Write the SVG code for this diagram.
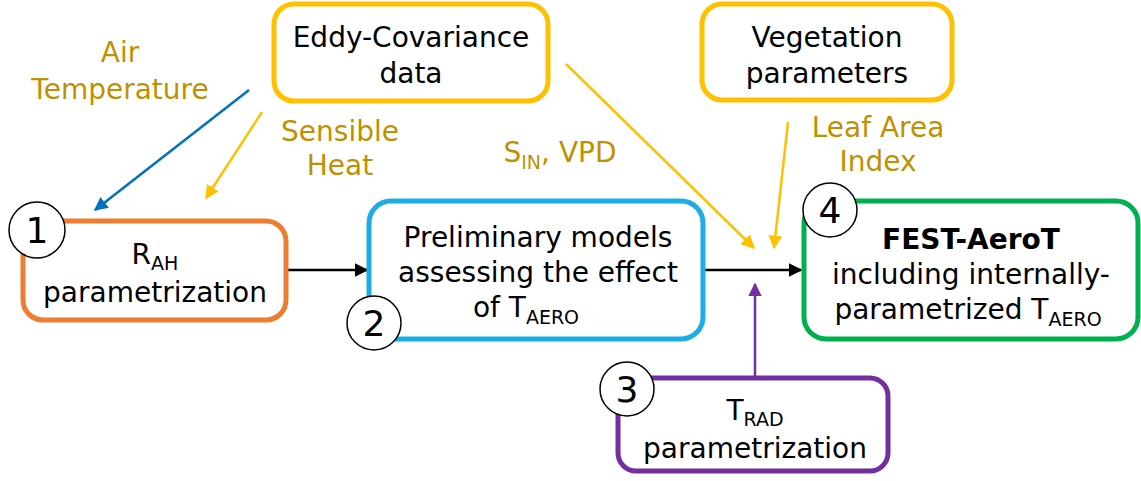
<svg xmlns="http://www.w3.org/2000/svg" width="1141" height="481" viewBox="0 0 1141 481">
  <defs>
    <style>
      text { font-family: "DejaVu Sans", Verdana, sans-serif; font-size: 28px; fill: #000; text-anchor: middle; }
      .lbl { fill: #BF9000; }
      .sub { font-size: 19px; }
      .num { font-size: 36px; }
      .box { fill: #fff; stroke-width: 5; }
      .badge { fill: #fff; stroke: #000; stroke-width: 1.5; }
      .conn { fill: none; stroke-width: 2.5; }
    </style>
    <marker id="ah-black" viewBox="0 0 10 10" refX="9" refY="5" markerWidth="5.5" markerHeight="5.5" orient="auto" markerUnits="strokeWidth">
      <path d="M0,0 L10,5 L0,10 z" fill="#000"/>
    </marker>
    <marker id="ah-gold" viewBox="0 0 10 10" refX="9" refY="5" markerWidth="5.5" markerHeight="5.5" orient="auto" markerUnits="strokeWidth">
      <path d="M0,0 L10,5 L0,10 z" fill="#FFC000"/>
    </marker>
    <marker id="ah-blue" viewBox="0 0 10 10" refX="9" refY="5" markerWidth="5.5" markerHeight="5.5" orient="auto" markerUnits="strokeWidth">
      <path d="M0,0 L10,5 L0,10 z" fill="#0070C0"/>
    </marker>
    <marker id="ah-purple" viewBox="0 0 10 10" refX="9" refY="5" markerWidth="5.5" markerHeight="5.5" orient="auto" markerUnits="strokeWidth">
      <path d="M0,0 L10,5 L0,10 z" fill="#7030A0"/>
    </marker>
  </defs>
  <rect width="1141" height="481" fill="#fff"/>

  <!-- connectors -->
  <g id="connectors">
    <line class="conn" x1="249" y1="90" x2="95" y2="210" stroke="#0070C0" marker-end="url(#ah-blue)"/>
    <line class="conn" x1="262" y1="112" x2="206" y2="198" stroke="#FFC000" marker-end="url(#ah-gold)"/>
    <line class="conn" x1="566" y1="64" x2="754" y2="248" stroke="#FFC000" marker-end="url(#ah-gold)"/>
    <line class="conn" x1="788" y1="122" x2="774" y2="248" stroke="#FFC000" marker-end="url(#ah-gold)"/>
    <line class="conn" x1="287" y1="270" x2="367" y2="270" stroke="#000" marker-end="url(#ah-black)"/>
    <line class="conn" x1="704" y1="270" x2="801" y2="270" stroke="#000" marker-end="url(#ah-black)"/>
    <line class="conn" x1="755" y1="378" x2="755" y2="284" stroke="#7030A0" marker-end="url(#ah-purple)"/>
  </g>

  <!-- connector labels -->
  <g id="labels">
    <text class="lbl" x="120" y="62">Air</text>
    <text class="lbl" x="120" y="99">Temperature</text>
    <text class="lbl" x="340" y="141">Sensible</text>
    <text class="lbl" x="340" y="175">Heat</text>
    <text class="lbl" x="560" y="162">S<tspan class="sub" dy="7">IN</tspan><tspan dy="-7">, VPD</tspan></text>
    <text class="lbl" x="878" y="137">Leaf Area</text>
    <text class="lbl" x="878" y="171">Index</text>
  </g>

  <g id="eddy">
    <rect class="box" x="274" y="4" width="274" height="97" rx="20" stroke="#FFC000"/>
    <text x="411" y="47">Eddy-Covariance</text>
    <text x="411" y="83">data</text>
  </g>

  <g id="vegetation">
    <rect class="box" x="702" y="4" width="250" height="96" rx="20" stroke="#FFC000"/>
    <text x="827" y="47">Vegetation</text>
    <text x="827" y="83">parameters</text>
  </g>

  <g id="rah">
    <rect class="box" x="23" y="221" width="263" height="99" rx="20" stroke="#ED7D31"/>
    <text x="155" y="264">R<tspan class="sub" dy="6">AH</tspan></text>
    <text x="155" y="302">parametrization</text>
    <circle class="badge" cx="37" cy="230" r="28"/>
    <text class="num" x="37" y="243">1</text>
  </g>

  <g id="preliminary">
    <rect class="box" x="369" y="201" width="334" height="138" rx="22" stroke="#1CADE4"/>
    <text x="538" y="247">Preliminary models</text>
    <text x="538" y="282">assessing the effect</text>
    <text x="526" y="317">of T<tspan class="sub" dy="7">AERO</tspan></text>
    <circle class="badge" cx="374" cy="323" r="27"/>
    <text class="num" x="374" y="336">2</text>
  </g>

  <g id="trad">
    <rect class="box" x="618" y="378" width="270" height="93" rx="18" stroke="#7030A0"/>
    <text x="755" y="420">T<tspan class="sub" dy="6">RAD</tspan></text>
    <text x="755" y="458">parametrization</text>
    <circle class="badge" cx="627" cy="389" r="27"/>
    <text class="num" x="627" y="402">3</text>
  </g>

  <g id="festaerot">
    <rect class="box" x="804" y="201" width="334" height="138" rx="22" stroke="#00B050"/>
    <text x="971" y="249" font-weight="bold">FEST-AeroT</text>
    <text x="971" y="284">including internally-</text>
    <text x="968" y="319">parametrized T<tspan class="sub" dy="7">AERO</tspan></text>
    <circle class="badge" cx="830" cy="210" r="27"/>
    <text class="num" x="830" y="223">4</text>
  </g>
</svg>
